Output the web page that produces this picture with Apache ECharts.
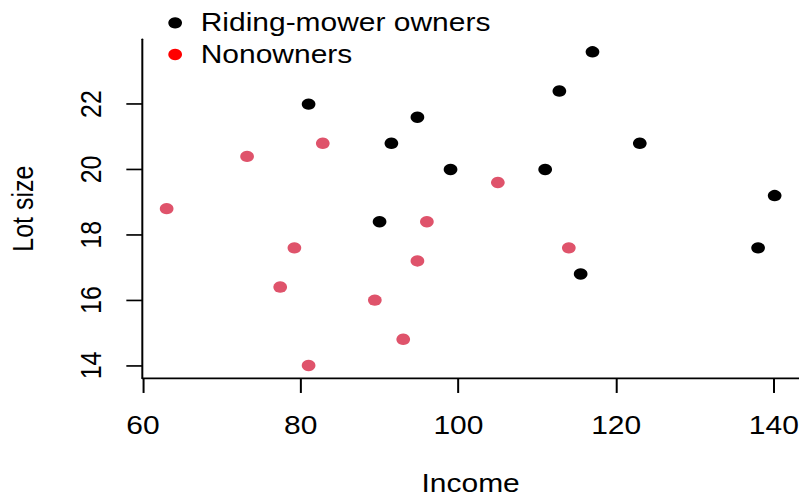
<!DOCTYPE html>
<html>
<head>
<meta charset="utf-8">
<title>Riding mowers: income vs lot size</title>
<script src="https://cdn.jsdelivr.net/npm/echarts@6/dist/echarts.min.js"></script>
<style>
  html, body { margin: 0; padding: 0; background: #ffffff; overflow: hidden; }
  #frame { position: relative; width: 799px; height: 499px; overflow: hidden; background: #ffffff; }
  /* The chart is laid out on a 640x480 page and stretched to fill the 799x499 frame */
  #chart {
    position: absolute; left: 0; top: 0;
    width: 640px; height: 480px;
    transform: scale(1.2484, 1.0396);
    transform-origin: 0 0;
  }
</style>
</head>
<body>
<div id="frame"><div id="chart"></div></div>
<script>
// Household income (thousands) and lot size (thousands of sq ft)
const ownerIncome = [90.0, 115.5, 94.8, 91.5, 117.0, 140.1, 138.0, 112.8, 99.0, 123.0, 81.0, 111.0];
const ownerLot    = [18.4, 16.8, 21.6, 20.8, 23.6, 19.2, 17.6, 22.4, 20.0, 20.8, 22.0, 20.0];
const nonIncome   = [105.0, 82.8, 94.8, 73.2, 114.0, 79.2, 89.4, 96.0, 77.4, 63.0, 81.0, 93.0];
const nonLot      = [19.6, 20.8, 17.2, 20.4, 17.6, 17.6, 16.0, 18.4, 16.4, 18.8, 14.0, 14.8];

const xTicks = [60, 80, 100, 120, 140];
const yTicks = [14, 16, 18, 20, 22];

const seriesNames = ['Riding-mower owners', 'Nonowners'];
const FONT = '"Liberation Sans", Arial, sans-serif';

function pairs(xs, ys) { return xs.map((x, i) => [x, ys[i]]); }

// Axis limits padded 4% beyond the data range on each side
function padded(values) {
  const lo = Math.min(...values), hi = Math.max(...values);
  const d = (hi - lo) * 0.04;
  return [lo - d, hi + d];
}
const xLim = padded(ownerIncome.concat(nonIncome));
const yLim = padded(ownerLot.concat(nonLot));

const chart = echarts.init(document.getElementById('chart'), null, { renderer: 'svg', width: 640, height: 480 });

chart.setOption({
  animation: false,
  backgroundColor: '#ffffff',
  textStyle: { fontFamily: FONT },
  grid: { left: 114, right: 0, top: 37.8, bottom: 116.4, containLabel: false, outerBoundsMode: 'none' },
  legend: {
    orient: 'vertical',
    left: 129.8,
    top: 5,
    itemWidth: 31,
    itemHeight: 11,
    itemGap: 6.4,
    icon: 'circle',
    textStyle: { fontFamily: FONT, fontSize: 24, color: '#000000' },
    data: [
      { name: seriesNames[0], itemStyle: { color: '#000000', opacity: 1 } },
      { name: seriesNames[1], itemStyle: { color: '#FF0000', opacity: 1 } }
    ]
  },
  xAxis: {
    type: 'value',
    min: xLim[0],
    max: xLim[1],
    name: 'Income',
    nameLocation: 'middle',
    nameGap: 89.5,
    nameTextStyle: { fontFamily: FONT, fontSize: 24, color: '#000000' },
    axisLine: { show: true, onZero: false, lineStyle: { color: '#000000', width: 1.6 } },
    axisTick: { show: true, length: 14.4, customValues: xTicks, lineStyle: { color: '#000000', width: 1.6 } },
    axisLabel: { customValues: xTicks, margin: 33.5, fontFamily: FONT, fontSize: 24, color: '#000000' },
    splitLine: { show: false }
  },
  yAxis: {
    type: 'value',
    min: yLim[0],
    max: yLim[1],
    name: 'Lot size',
    nameLocation: 'middle',
    nameGap: 84.2,
    nameRotate: 90,
    nameTextStyle: { fontFamily: FONT, fontSize: 24, color: '#000000' },
    axisLine: { show: true, onZero: false, lineStyle: { color: '#000000', width: 1.6 } },
    axisTick: { show: true, length: 12.8, customValues: yTicks, lineStyle: { color: '#000000', width: 1.6 } },
    axisLabel: { customValues: yTicks, rotate: 90, margin: 29.5, fontFamily: FONT, fontSize: 24, color: '#000000' },
    splitLine: { show: false }
  },
  series: [
    {
      name: seriesNames[0],
      type: 'scatter',
      symbol: 'circle',
      symbolSize: 11,
      itemStyle: { color: '#000000', opacity: 1 },
      data: pairs(ownerIncome, ownerLot)
    },
    {
      name: seriesNames[1],
      type: 'scatter',
      symbol: 'circle',
      symbolSize: 11,
      itemStyle: { color: '#DF536B', opacity: 1 },
      data: pairs(nonIncome, nonLot)
    }
  ]
});
</script>
</body>
</html>
